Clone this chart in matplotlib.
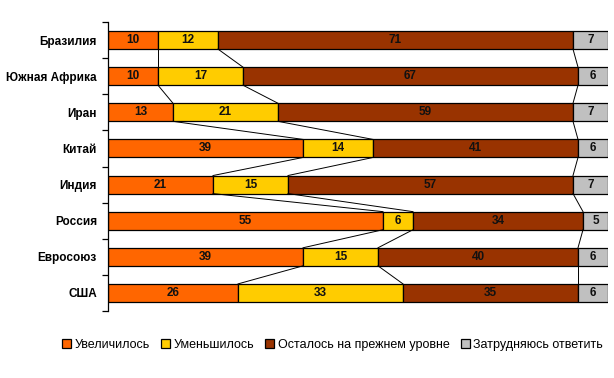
import matplotlib
matplotlib.use("Agg")
import matplotlib.pyplot as plt
import numpy as np

categories = ["Бразилия", "Южная Африка", "Иран", "Китай", "Индия", "Россия", "Евросоюз", "США"]
increased = [10, 10, 13, 39, 21, 55, 39, 26]
decreased = [12, 17, 21, 14, 15, 6, 15, 33]
same = [71, 67, 59, 41, 57, 34, 40, 35]
hard = [7, 6, 7, 6, 7, 5, 6, 6]
series_names = ["Увеличилось", "Уменьшилось", "Осталось на прежнем уровне", "Затрудняюсь ответить"]
colors = ["#FF6600", "#FFCC00", "#993300", "#C0C0C0"]

plt.rcParams['font.family'] = ['Liberation Sans', 'DejaVu Sans']

fig = plt.figure(figsize=(6.14, 3.78), dpi=100)
ax = fig.add_axes([108/614, 1-311/378, 500/614, 289/378])

data = np.array([increased, decreased, same, hard], dtype=float)
y = np.arange(len(categories))
h = 0.5
left = np.zeros(len(categories))
handles = []
for k in range(4):
    b = ax.barh(y, data[k], left=left, height=h, color=colors[k], edgecolor='black',
                linewidth=0.9, label=series_names[k])
    handles.append(b)
    for i in range(len(categories)):
        ax.text(left[i] + data[k][i]/2, y[i], f"{int(data[k][i])}", ha='center', va='center',
                fontsize=8.5, fontweight='bold', color='#111111')
    left = left + data[k]

# series lines
cum = np.cumsum(data, axis=0)
for k in range(3):
    for i in range(len(categories)-1):
        ax.plot([cum[k][i], cum[k][i+1]], [y[i]+h/2, y[i+1]-h/2], color='black', lw=0.7)

ax.set_xlim(0, 100)
ax.set_ylim(len(categories)-0.5, -0.5)
for s in ['top', 'right', 'bottom']:
    ax.spines[s].set_visible(False)
ax.spines['left'].set_linewidth(0.9)
ax.set_xticks([])
ax.set_yticks(np.arange(-0.5, len(categories), 1.0))
ax.set_yticklabels([])
ax.tick_params(axis='y', which='major', length=4, width=0.9, direction='out')
ax.set_yticks(y, minor=True)
ax.set_yticklabels(categories, minor=True, fontsize=8.5, fontweight='bold')
ax.tick_params(axis='y', which='minor', length=0, pad=8)

leg = fig.legend(handles=handles, labels=series_names, loc='center', bbox_to_anchor=(0.5415, 1-345/378),
                 ncol=4, frameon=False, fontsize=9, handlelength=0.7, handleheight=0.7,
                 handletextpad=0.3, columnspacing=0.9, borderaxespad=0)

fig.savefig("out.png", dpi=100)
